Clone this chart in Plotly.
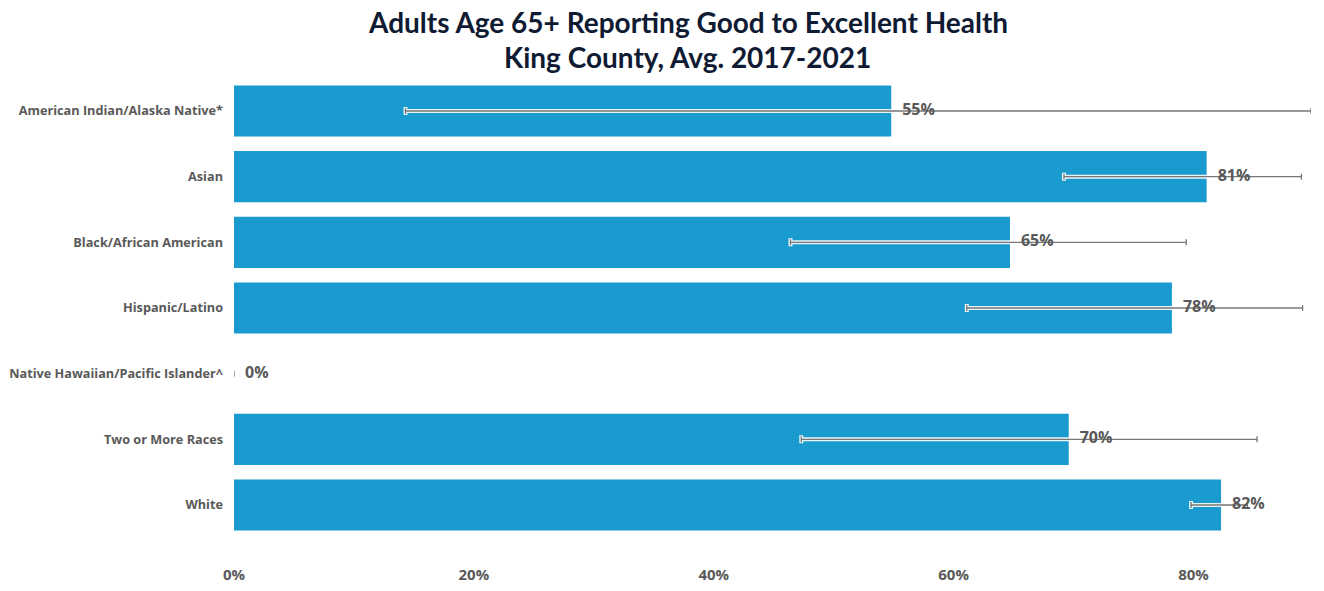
import plotly.graph_objects as go

categories = ["American Indian/Alaska Native*", "Asian", "Black/African American",
              "Hispanic/Latino", "Native Hawaiian/Pacific Islander^", "Two or More Races", "White"]
values = [54.8, 81.1, 64.7, 78.2, 0.0, 69.6, 82.3]
lower_ci = [14.3, 69.2, 46.4, 61.1, 0.0, 47.3, 79.8]
upper_ci = [89.8, 89.0, 79.4, 89.1, 0.0, 85.3, 84.5]
labels = ["55%", "81%", "65%", "78%", "0%", "70%", "82%"]
tick_vals = [0, 20, 40, 60, 80]
tick_text = ["0%", "20%", "40%", "60%", "80%"]
title_line1 = "Adults Age 65+ Reporting Good to Excellent Health"
title_line2 = "King County, Avg. 2017-2021"

plus = [u - v for u, v in zip(upper_ci, values)]
minus = [v - l for v, l in zip(values, lower_ci)]

GRAY = "#595959"

fig = go.Figure()
fig.add_trace(go.Bar(
    x=values, y=categories, orientation="h",
    marker=dict(color="#1a9bcf", line=dict(width=0)),
    width=0.78, hoverinfo="skip", showlegend=False,
))
# white halo under error bars
fig.add_trace(go.Scatter(
    x=values, y=categories, mode="markers",
    marker=dict(size=1, opacity=0),
    error_x=dict(type="data", symmetric=False, array=plus, arrayminus=minus,
                 color="rgba(255,255,255,0.9)", thickness=4, width=4),
    hoverinfo="skip", showlegend=False, cliponaxis=False,
))
# gray error bars + labels
fig.add_trace(go.Scatter(
    x=values, y=categories, mode="markers+text",
    marker=dict(size=16, opacity=0),
    text=labels, textposition="middle right",
    textfont=dict(family="Open Sans", size=16, color=GRAY, weight="bold"),
    error_x=dict(type="data", symmetric=False, array=plus, arrayminus=minus,
                 color="#777777", thickness=1.3, width=3),
    hoverinfo="skip", showlegend=False, cliponaxis=False,
))

title_font = dict(family="Lato", size=28, color="#0f1a33", weight="bold")
fig.add_annotation(
    text=title_line1, xref="paper", yref="paper", x=0.4215, y=1,
    xanchor="center", yanchor="middle", yshift=56, showarrow=False,
    borderpad=0, font=title_font,
)
fig.add_annotation(
    text=title_line2, xref="paper", yref="paper", x=0.4215, y=1,
    xanchor="center", yanchor="middle", yshift=21, showarrow=False,
    borderpad=0, font=title_font,
)

fig.update_layout(
    width=1324, height=591,
    paper_bgcolor="white", plot_bgcolor="white",
    margin=dict(l=234, r=13, t=78, b=53),
    xaxis=dict(range=[0, 89.8], tickvals=tick_vals, ticktext=tick_text,
               showgrid=False, zeroline=False, showline=False, automargin=False,
               tickfont=dict(family="Open Sans", size=15, color=GRAY, weight="bold"),
               ticks="", ticklabelstandoff=26),
    yaxis=dict(categoryorder="array", categoryarray=categories, autorange="reversed",
               showgrid=False, zeroline=False, showline=False, ticks="", automargin=False,
               tickfont=dict(family="Open Sans", size=12.7, color=GRAY, weight="bold"),
               ticklabelstandoff=10),
    bargap=0.22,
)

fig.write_html("out.html", config={"displayModeBar": False},
               post_script="document.body.style.margin='0';")
